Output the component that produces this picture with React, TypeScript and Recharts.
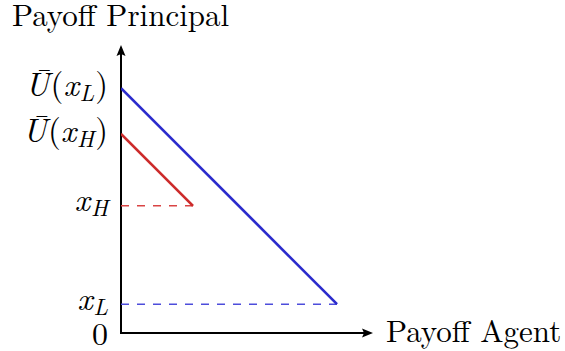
import { LineChart, Line, XAxis, YAxis, ReferenceLine } from 'recharts'

// agent payoff (x) and principal payoff (y) at the ends of each line
const lowAgent = [0, 9.0]
const lowPrincipal = [10.2, 1.2]
const highAgent = [0, 3.0]
const highPrincipal = [8.3, 5.3]

const yTickValues = [0, 1.2, 5.3, 8.3, 10.2]
const yTickLabels = [
  { head: '', base: '0', sub: '' },
  { head: '', base: 'x', sub: 'L' },
  { head: '', base: 'x', sub: 'H' },
  { head: 'Ū', base: 'x', sub: 'H' },
  { head: 'Ū', base: 'x', sub: 'L' },
]

const xMax = 10.5
const yMax = 12

const lowLine = lowAgent.map((a, i) => ({ a, p: lowPrincipal[i] }))
const highLine = highAgent.map((a, i) => ({ a, p: highPrincipal[i] }))
const lowGuide = [{ a: 0, p: lowPrincipal[1] }, { a: lowAgent[1], p: lowPrincipal[1] }]
const highGuide = [{ a: 0, p: highPrincipal[1] }, { a: highAgent[1], p: highPrincipal[1] }]

const lm = { fontFamily: '"Latin Modern Roman"' }

function PrincipalTick(props: any) {
  const { x, y, payload } = props
  const lab = yTickLabels[yTickValues.indexOf(payload.value)]
  if (!lab) return null
  if (lab.base === '0') {
    return (
      <text x={x} y={y + 12} textAnchor="end" style={lm} fontSize={32} fill="#000">0</text>
    )
  }
  if (lab.head === '') {
    return (
      <text x={x} y={y + 5.5} textAnchor="end" style={lm} fontSize={33} fill="#000">
        <tspan fontStyle="italic">{lab.base}</tspan>
        <tspan fontStyle="italic" fontSize={23} dy={5} dx={1}>{lab.sub}</tspan>
      </text>
    )
  }
  return (
    <text x={x} y={y + 8} textAnchor="end" style={lm} fontSize={33} fill="#000">
      <tspan fontStyle="italic">{lab.head}</tspan>
      <tspan dx={1}>(</tspan>
      <tspan fontStyle="italic">{lab.base}</tspan>
      <tspan fontStyle="italic" fontSize={23} dy={5} dx={1}>{lab.sub}</tspan>
      <tspan dy={-5} dx={1}>)</tspan>
    </text>
  )
}

function Arrow(props: any) {
  const { x1, y1, x2, y2 } = props
  const dx = x2 - x1
  const dy = y2 - y1
  const len = Math.sqrt(dx * dx + dy * dy) || 1
  const ux = dx / len
  const uy = dy / len
  const head = 11
  const half = 4.5
  const bx = x2 - ux * head
  const by = y2 - uy * head
  const pts = [
    `${x2},${y2}`,
    `${bx - uy * half},${by + ux * half}`,
    `${x2 - ux * (head - 2)},${y2 - uy * (head - 2)}`,
    `${bx + uy * half},${by - ux * half}`,
  ].join(' ')
  return (
    <g>
      <line x1={x1 - ux} y1={y1 - uy} x2={bx + ux * 2} y2={by + uy * 2} stroke="#000" strokeWidth={2} />
      <polygon points={pts} fill="#000" />
    </g>
  )
}

export default function App() {
  return (
    <div style={{ position: 'absolute', left: 0, top: 0, width: 565, height: 351, background: '#fff' }}>
      <LineChart
        width={565}
        height={351}
        margin={{ top: 45, right: 192, bottom: 18, left: 10 }}
      >
        <XAxis type="number" dataKey="a" domain={[0, xMax]} hide allowDataOverflow />
        <YAxis
          type="number"
          dataKey="p"
          domain={[0, yMax]}
          ticks={yTickValues}
          interval={0}
          width={111}
          axisLine={false}
          tickLine={false}
          tickSize={0}
          tickMargin={13}
          tick={<PrincipalTick />}
          allowDataOverflow
        />
        <ReferenceLine segment={[{ x: 0, y: 0 }, { x: xMax, y: 0 }]} shape={Arrow} ifOverflow="visible" />
        <ReferenceLine segment={[{ x: 0, y: 0 }, { x: 0, y: yMax }]} shape={Arrow} ifOverflow="visible" />
        <Line data={lowGuide} dataKey="p" stroke="#4d4ddb" strokeWidth={1.6} strokeDasharray="8 8" dot={false} isAnimationActive={false} />
        <Line data={highGuide} dataKey="p" stroke="#d94444" strokeWidth={1.6} strokeDasharray="8 8" dot={false} isAnimationActive={false} />
        <Line data={lowLine} dataKey="p" stroke="#2b2bcc" strokeWidth={2.6} dot={false} isAnimationActive={false} />
        <Line data={highLine} dataKey="p" stroke="#cc2b2b" strokeWidth={2.6} dot={false} isAnimationActive={false} />
      </LineChart>
      <svg width={565} height={351} style={{ position: 'absolute', left: 0, top: 0, pointerEvents: 'none' }}>
        <text x={12} y={26} style={lm} fontSize={31} fill="#000">
          Payoff Principal
        </text>
        <text x={386} y={342} style={lm} fontSize={31} fill="#000">
          Payoff Agent
        </text>
      </svg>
    </div>
  )
}
